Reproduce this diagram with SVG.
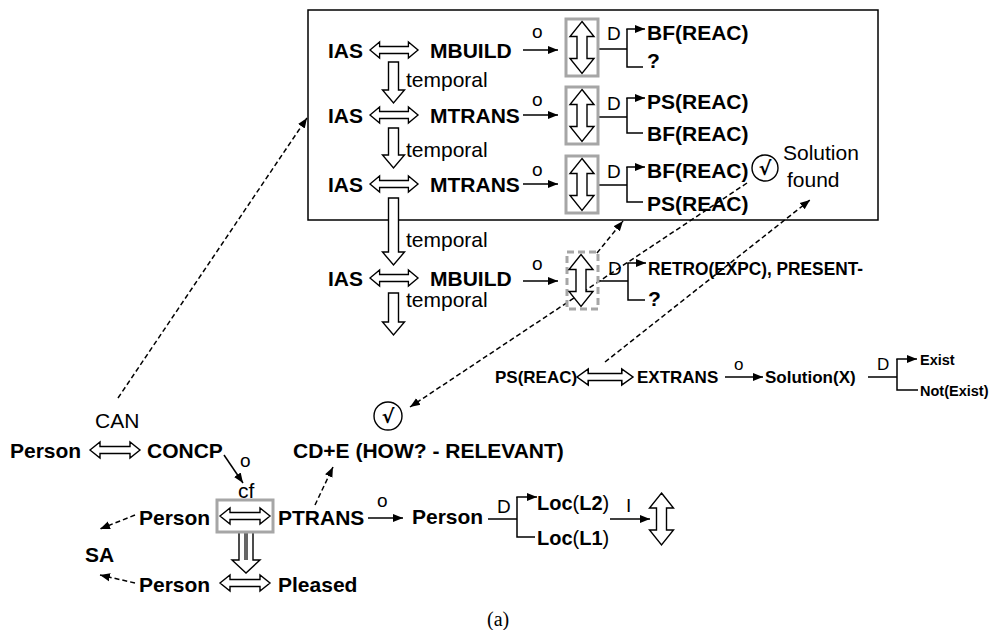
<svg xmlns="http://www.w3.org/2000/svg" width="995" height="630" viewBox="0 0 995 630">
<defs>
<style>
text{font-family:"Liberation Sans",Arial,sans-serif;fill:#000}
.b{font-weight:bold;font-size:21px}
.r{font-size:21px}
.lbl{font-size:19px}
.s{font-weight:bold;font-size:17px}
.xs{font-weight:bold;font-size:14.5px}
.chk{font-family:"DejaVu Sans",sans-serif;font-weight:bold;font-size:19px}
.hol{fill:#fff;stroke:#000;stroke-width:1.4;stroke-linejoin:miter}
.ln{fill:none;stroke:#000;stroke-width:1.5}
.dash{fill:none;stroke:#000;stroke-width:1.5;stroke-dasharray:5 3}
.gbox{fill:none;stroke:#a6a6a6;stroke-width:3}
.gdash{fill:none;stroke:#a6a6a6;stroke-width:3;stroke-dasharray:7 4}
.circ{fill:#fff;stroke:#000;stroke-width:1.4}
</style>
<marker id="ah" viewBox="0 0 10 10" refX="10" refY="5" markerWidth="10" markerHeight="10" markerUnits="userSpaceOnUse" orient="auto">
<path d="M0,1 L10,5 L0,9 Z" fill="#000"/>
</marker>
<path id="hd" d="M-25,0 L-15,-8 L-15,-3.5 L15,-3.5 L15,-8 L25,0 L15,8 L15,3.5 L-15,3.5 L-15,8 Z"/>
<path id="vd" d="M0,-26 L12,-11 L5,-11 L5,11 L12,11 L0,26 L-12,11 L-5,11 L-5,-11 L-12,-11 Z"/>
</defs>

<rect x="308" y="10" width="570" height="210" fill="none" stroke="#000" stroke-width="1.5"/>

<g id="connectors">
<!-- temporal arrows -->
<path class="hol" d="M388.5,62 L398.5,62 L398.5,90 L404.5,90 L393.5,103 L382.5,90 L388.5,90 Z"/>
<path class="hol" d="M388.5,128 L398.5,128 L398.5,155 L404.5,155 L393.5,168 L382.5,155 L388.5,155 Z"/>
<path class="hol" d="M388.5,198 L398.5,198 L398.5,252 L404.5,252 L393.5,265 L382.5,252 L388.5,252 Z"/>
<path class="hol" d="M388.5,293 L398.5,293 L398.5,322 L404.5,322 L393.5,335 L382.5,322 L388.5,322 Z"/>
<!-- o arrows -->
<line class="ln" x1="523" y1="50" x2="558" y2="50" marker-end="url(#ah)"/>
<line class="ln" x1="523" y1="115" x2="558" y2="115" marker-end="url(#ah)"/>
<line class="ln" x1="523" y1="184" x2="558" y2="184" marker-end="url(#ah)"/>
<line class="ln" x1="523" y1="281" x2="558" y2="281" marker-end="url(#ah)"/>
<!-- brackets -->
<path class="ln" d="M598,49 L627,49 M627,29 L627,67 L643,67"/>
<line class="ln" x1="626.3" y1="29" x2="645" y2="29" marker-end="url(#ah)"/>
<path class="ln" d="M598,117 L627,117 M627,98 L627,133 L643,133"/>
<line class="ln" x1="626.3" y1="98" x2="645" y2="98" marker-end="url(#ah)"/>
<path class="ln" d="M598,185 L627,185 M627,167 L627,202 L643,202"/>
<line class="ln" x1="626.3" y1="167" x2="645" y2="167" marker-end="url(#ah)"/>
<path class="ln" d="M598,281 L628,281 M628,263 L628,300 L645,300"/>
<line class="ln" x1="627.3" y1="263" x2="646" y2="263" marker-end="url(#ah)"/>
<!-- dashed connectors -->
<line class="dash" x1="118" y1="398" x2="307" y2="118" marker-end="url(#ah)"/>
<line class="dash" x1="597" y1="253" x2="623" y2="221" marker-end="url(#ah)"/>
<line class="dash" x1="747" y1="183" x2="410" y2="407" marker-end="url(#ah)"/>
<line class="dash" x1="605" y1="362" x2="810" y2="200" marker-end="url(#ah)"/>
<line class="dash" x1="315" y1="505" x2="333" y2="467" marker-end="url(#ah)"/>
<line class="dash" x1="135" y1="515" x2="100" y2="529" marker-end="url(#ah)"/>
<line class="dash" x1="135" y1="583" x2="100" y2="575" marker-end="url(#ah)"/>
<!-- bottom left -->
<line class="ln" x1="224" y1="455" x2="243" y2="483" marker-end="url(#ah)"/>
<line class="ln" x1="368" y1="518" x2="403" y2="518" marker-end="url(#ah)"/>
<path class="hol" d="M239,532 L253,532 L253,560 L260,560 L246,573 L232,560 L239,560 Z"/>
<path class="ln" style="stroke-width:1.2" d="M245,532 L245,560 M247,532 L247,560"/>
<path class="ln" d="M488,519 L517,519 M517,497 L517,537 L535,537"/>
<line class="ln" x1="516.3" y1="497" x2="537" y2="497" marker-end="url(#ah)"/>
<line class="ln" x1="610" y1="519" x2="650" y2="519" marker-end="url(#ah)"/>
<!-- right -->
<line class="ln" x1="725" y1="377" x2="763" y2="377" marker-end="url(#ah)"/>
<path class="ln" d="M868,377 L897,377 M897,359 L897,390 L918,390"/>
<line class="ln" x1="896.3" y1="359" x2="917" y2="359" marker-end="url(#ah)"/>
</g>

<g id="row1">
<text class="b" x="328" y="57.5">IAS</text>
<use href="#hd" class="hol" transform="translate(394,50) scale(0.96,1)"/>
<text class="b" x="430" y="57.5">MBUILD</text>
<text class="lbl" x="532" y="38">o</text>
<rect class="gbox" x="566" y="19" width="32" height="57"/>
<use href="#vd" class="hol" transform="translate(582,47.5)"/>
<text class="lbl" x="607" y="40">D</text>
<text class="b" x="647" y="40">BF(REAC)</text>
<text class="b" x="647" y="68">?</text>
<text class="r" x="406" y="87">temporal</text>
</g>

<g id="row2">
<text class="b" x="328" y="122.5">IAS</text>
<use href="#hd" class="hol" transform="translate(394,115) scale(0.96,1)"/>
<text class="b" x="430" y="122.5">MTRANS</text>
<text class="lbl" x="532" y="106">o</text>
<rect class="gbox" x="566" y="87" width="32" height="57"/>
<use href="#vd" class="hol" transform="translate(582,115.5)"/>
<text class="lbl" x="607" y="110">D</text>
<text class="b" x="647" y="109">PS(REAC)</text>
<text class="b" x="647" y="141">BF(REAC)</text>
<text class="r" x="406" y="157">temporal</text>
</g>

<g id="row3">
<text class="b" x="328" y="191.5">IAS</text>
<use href="#hd" class="hol" transform="translate(394,184) scale(0.96,1)"/>
<text class="b" x="430" y="191.5">MTRANS</text>
<text class="lbl" x="532" y="176">o</text>
<rect class="gbox" x="566" y="156" width="32" height="57"/>
<use href="#vd" class="hol" transform="translate(582,184.5)"/>
<text class="lbl" x="607" y="178">D</text>
<text class="b" x="647" y="178">BF(REAC)</text>
<text class="b" x="647" y="211">PS(REAC)</text>
<circle class="circ" cx="765" cy="168" r="13"/>
<text class="chk" x="765" y="175" text-anchor="middle">√</text>
<text class="r" x="783" y="160">Solution</text>
<text class="r" x="787" y="187">found</text>
<text class="r" x="406" y="247">temporal</text>
</g>

<g id="row4">
<text class="b" x="328" y="285.5">IAS</text>
<use href="#hd" class="hol" transform="translate(394,278) scale(0.96,1)"/>
<text class="b" x="430" y="285.5">MBUILD</text>
<text class="lbl" x="532" y="270">o</text>
<rect class="gdash" x="567" y="252" width="31" height="57"/>
<use href="#vd" class="hol" transform="translate(581,280.5)"/>
<text class="lbl" x="608" y="275">D</text>
<text class="b" x="648" y="275" style="font-size:19px" textLength="215" lengthAdjust="spacingAndGlyphs">RETRO(EXPC), PRESENT-</text>
<text class="b" x="648" y="306">?</text>
<text class="r" x="406" y="307">temporal</text>
</g>

<g id="extrans">
<text class="s" x="495" y="383">PS(REAC)</text>
<use href="#hd" class="hol" transform="translate(605,377) scale(1.12,1)"/>
<text class="s" x="637" y="383">EXTRANS</text>
<text class="lbl" x="734" y="370" style="font-size:17px">o</text>
<text class="s" x="765" y="383">Solution(X)</text>
<text class="lbl" x="877" y="370" style="font-size:17px">D</text>
<text class="xs" x="920" y="365">Exist</text>
<text class="xs" x="920" y="396">Not(Exist)</text>
</g>

<g id="can">
<text class="r" x="95" y="428">CAN</text>
<text class="b" x="10" y="458">Person</text>
<use href="#hd" class="hol" transform="translate(115,450)"/>
<text class="b" x="147" y="458">CONCP</text>
<text class="lbl" x="240" y="467">o</text>
<text class="r" x="238" y="498">cf</text>
</g>

<g id="ptrans">
<rect class="gbox" x="217" y="500" width="56" height="32"/>
<use href="#hd" class="hol" transform="translate(245,516)"/>
<text class="b" x="139" y="525">Person</text>
<text class="b" x="278" y="525">PTRANS</text>
<text class="lbl" x="377" y="507">o</text>
<text class="b" x="85" y="562">SA</text>
</g>

<g id="pleased">
<text class="b" x="139" y="592">Person</text>
<use href="#hd" class="hol" transform="translate(245,583)"/>
<text class="b" x="278" y="592">Pleased</text>
</g>

<g id="cde">
<circle class="circ" cx="388" cy="416" r="14"/>
<text class="chk" x="388" y="423" text-anchor="middle">√</text>
<text class="b" x="293" y="458">CD+E (HOW? - RELEVANT)</text>
</g>

<g id="loc">
<text class="b" x="412" y="524">Person</text>
<text class="lbl" x="497" y="513">D</text>
<text class="b" x="537" y="510" style="font-size:20px">Loc<tspan style="font-weight:normal">(</tspan>L2<tspan style="font-weight:normal">)</tspan></text>
<text class="b" x="537" y="545" style="font-size:20px">Loc<tspan style="font-weight:normal">(</tspan>L1<tspan style="font-weight:normal">)</tspan></text>
<text class="lbl" x="626" y="512">I</text>
<use href="#vd" class="hol" transform="translate(661.5,519)"/>
</g>

<text x="487" y="626" style="font-family:'Liberation Serif',serif;font-size:20px">(a)</text>
</svg>
